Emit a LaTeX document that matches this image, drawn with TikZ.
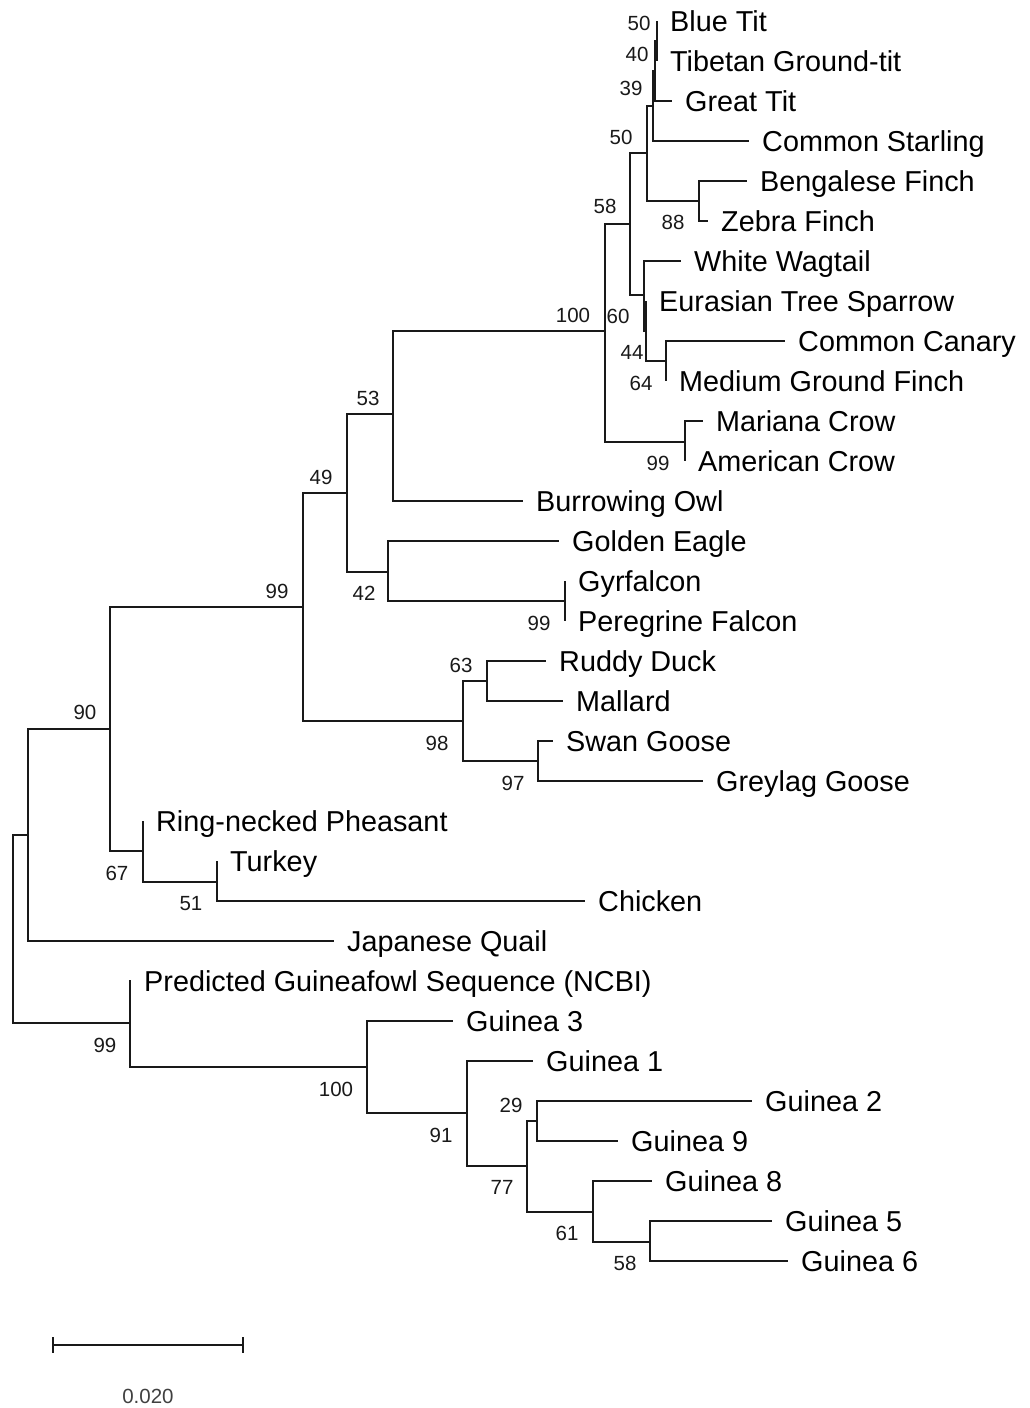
\documentclass[tikz,border=0pt]{standalone}
\usepackage{fontspec}
\setmainfont{Liberation Sans}
\tikzset{
  leaflab/.style={anchor=base west, inner sep=0pt, text=black, font=\fontsize{28.8}{31}\selectfont},
  bslab/.style={anchor=base, inner sep=0pt, text=black!90, font=\fontsize{20.5}{22}\selectfont},
  branch/.style={line width=1.8pt, black!90}
}
\newcommand\tleaf[4]{\coordinate (#1) at (#2,#3); \node[leaflab] (#1-l) at (#2+13,#3+10) {#4};}
\newcommand\bsv[4]{\node[bslab] (#1) at (#2,#3+7.3) {#4};}
\begin{document}
\begin{tikzpicture}[x=1pt,y=-1pt]
\useasboundingbox (0,0) rectangle (1029,1408);
% internal nodes
\coordinate (root) at (13,929);
\coordinate (NQ) at (28,835);
\coordinate (N90) at (110,729);
\coordinate (N67) at (143,851);
\coordinate (N51) at (217,882);
\coordinate (N99) at (303,607);
\coordinate (N49) at (347,493);
\coordinate (N53) at (393,414);
\coordinate (N42) at (388,572);
\coordinate (NF) at (565,601);
\coordinate (N98) at (463,721);
\coordinate (N63) at (487,681);
\coordinate (N97) at (538,761);
\coordinate (P100) at (605,331);
\coordinate (Crow) at (685,442);
\coordinate (F) at (630,224);
\coordinate (D) at (647,153);
\coordinate (C) at (653,106);
\coordinate (B) at (655,71);
\coordinate (A) at (657,41);
\coordinate (E) at (699,201);
\coordinate (G) at (644,295);
\coordinate (H) at (646,331);
\coordinate (I) at (666,361);
\coordinate (Gf) at (130,1023);
\coordinate (G100) at (367,1067);
\coordinate (G91) at (467,1113);
\coordinate (G77) at (527,1166);
\coordinate (G29) at (537,1121);
\coordinate (G61) at (593,1212);
\coordinate (G58) at (650,1242);
% leaves
\tleaf{blue}{657}{21}{Blue Tit}
\tleaf{tib}{657}{61}{Tibetan Ground-tit}
\tleaf{great}{672}{101}{Great Tit}
\tleaf{star}{749}{141}{Common Starling}
\tleaf{beng}{747}{181}{Bengalese Finch}
\tleaf{zeb}{708}{221}{Zebra Finch}
\tleaf{wag}{681}{261}{White Wagtail}
\tleaf{spar}{646}{301}{Eurasian Tree Sparrow}
\tleaf{can}{785}{341}{Common Canary}
\tleaf{mgf}{666}{381}{Medium Ground Finch}
\tleaf{mar}{703}{421}{Mariana Crow}
\tleaf{amc}{685}{461}{American Crow}
\tleaf{owl}{523}{501}{Burrowing Owl}
\tleaf{eag}{559}{541}{Golden Eagle}
\tleaf{gyr}{565}{581}{Gyrfalcon}
\tleaf{per}{565}{621}{Peregrine Falcon}
\tleaf{rud}{546}{661}{Ruddy Duck}
\tleaf{mal}{563}{701}{Mallard}
\tleaf{swan}{553}{741}{Swan Goose}
\tleaf{grey}{703}{781}{Greylag Goose}
\tleaf{phe}{143}{821}{Ring-necked Pheasant}
\tleaf{tur}{217}{861}{Turkey}
\tleaf{chi}{585}{901}{Chicken}
\tleaf{qua}{334}{941}{Japanese Quail}
\tleaf{pred}{131}{981}{Predicted Guineafowl Sequence (NCBI)}
\tleaf{g3}{453}{1021}{Guinea 3}
\tleaf{g1}{533}{1061}{Guinea 1}
\tleaf{g2}{752}{1101}{Guinea 2}
\tleaf{g9}{618}{1141}{Guinea 9}
\tleaf{g8}{652}{1181}{Guinea 8}
\tleaf{g5}{772}{1221}{Guinea 5}
\tleaf{g6}{788}{1261}{Guinea 6}
% branches
\begin{scope}[branch]
\draw (root) |- (NQ); \draw (root) |- (Gf);
\draw (NQ) |- (N90); \draw (NQ) |- (qua);
\draw (N90) |- (N99); \draw (N90) |- (N67);
\draw (N67) |- (phe); \draw (N67) |- (N51);
\draw (N51) |- (tur); \draw (N51) |- (chi);
\draw (N99) |- (N49); \draw (N99) |- (N98);
\draw (N49) |- (N53); \draw (N49) |- (N42);
\draw (N53) |- (P100); \draw (N53) |- (owl);
\draw (N42) |- (eag); \draw (N42) |- (NF);
\draw (NF) |- (gyr); \draw (NF) |- (per);
\draw (N98) |- (N63); \draw (N98) |- (N97);
\draw (N63) |- (rud); \draw (N63) |- (mal);
\draw (N97) |- (swan); \draw (N97) |- (grey);
\draw (P100) |- (F); \draw (P100) |- (Crow);
\draw (Crow) |- (mar); \draw (Crow) |- (amc);
\draw (F) |- (D); \draw (F) |- (G);
\draw (D) |- (C); \draw (D) |- (E);
\draw (C) |- (B); \draw (C) |- (star);
\draw (B) |- (A); \draw (B) |- (great);
\draw (A) |- (blue); \draw (A) |- (tib);
\draw (E) |- (beng); \draw (E) |- (zeb);
\draw (G) |- (wag); \draw (G) |- (H);
\draw (H) |- (spar); \draw (H) |- (I);
\draw (I) |- (can); \draw (I) |- (mgf);
\draw (Gf) |- (pred); \draw (Gf) |- (G100);
\draw (G100) |- (g3); \draw (G100) |- (G91);
\draw (G91) |- (g1); \draw (G91) |- (G77);
\draw (G77) |- (G29); \draw (G77) |- (G61);
\draw (G29) |- (g2); \draw (G29) |- (g9);
\draw (G61) |- (g8); \draw (G61) |- (G58);
\draw (G58) |- (g5); \draw (G58) |- (g6);
\end{scope}
% bootstrap values
\bsv{bA}{639}{23}{50}
\bsv{bB}{637}{54}{40}
\bsv{bC}{631}{88}{39}
\bsv{bD}{621}{137}{50}
\bsv{bE}{673}{222}{88}
\bsv{bF}{605}{206}{58}
\bsv{bG}{618}{316}{60}
\bsv{bH}{632}{352}{44}
\bsv{bI}{641}{383}{64}
\bsv{bP}{573}{315}{100}
\bsv{bCrow}{658}{463}{99}
\bsv{b53}{368}{398}{53}
\bsv{b49}{321}{477}{49}
\bsv{b42}{364}{593}{42}
\bsv{bNF}{539}{623}{99}
\bsv{b99}{277}{591}{99}
\bsv{b63}{461}{665}{63}
\bsv{b98}{437}{743}{98}
\bsv{b97}{513}{783}{97}
\bsv{b90}{85}{712}{90}
\bsv{b67}{117}{873}{67}
\bsv{b51}{191}{903}{51}
\bsv{bGf}{105}{1045}{99}
\bsv{bG100}{336}{1089}{100}
\bsv{bG91}{441}{1135}{91}
\bsv{bG29}{511}{1105}{29}
\bsv{bG77}{502}{1187}{77}
\bsv{bG61}{567}{1233}{61}
\bsv{bG58}{625}{1263}{58}
% scale bar
\coordinate (s1) at (53,1345);
\coordinate (s2) at (243,1345);
\draw[branch] (s1) -- (s2);
\draw[branch] ([yshift=8pt]s1) -- ([yshift=-8pt]s1);
\draw[branch] ([yshift=8pt]s2) -- ([yshift=-8pt]s2);
\node[bslab, text=black!75] (scale) at (148,1403) {0.020};
\end{tikzpicture}
\end{document}
